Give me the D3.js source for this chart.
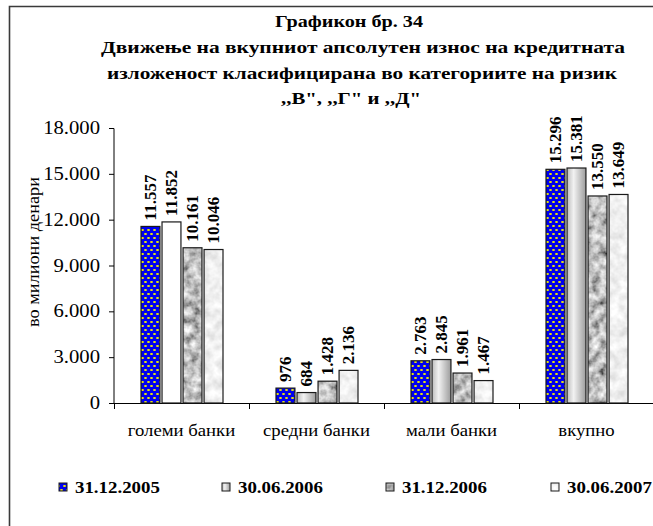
<!DOCTYPE html>
<html>
<head>
<meta charset="utf-8">
<script src="https://cdn.jsdelivr.net/npm/d3@7"></script>
<style>
  body { margin: 0; background: #fff; }
  svg { display: block; font-family: "Liberation Serif", "Times New Roman", serif; }
</style>
</head>
<body>
<svg id="chart" width="653" height="526"></svg>
<script>
// chart data
const categories = ["големи банки", "средни банки", "мали банки", "вкупно"];
const seriesNames = ["31.12.2005", "30.06.2006", "31.12.2006", "30.06.2007"];
const s2005dec = [11557, 976, 2763, 15296];
const s2006jun = [11852, 684, 2845, 15381];
const s2006dec = [10161, 1428, 1961, 13550];
const s2007jun = [10046, 2136, 1467, 13649];
const yTicks = [0, 3000, 6000, 9000, 12000, 15000, 18000];
const titleLines = [
  "Графикон бр. 34",
  "Движење на вкупниот апсолутен износ на кредитната",
  "изложеност класифицирана во категориите на ризик",
  ",,В\", ,,Г\" и ,,Д\""
];
const yTitle = "во милиони денари";

const seriesValues = [s2005dec, s2006jun, s2006dec, s2007jun];

const svg = d3.select("#chart");
const defs = svg.append("defs");

// frame (only top and left edges show in the source)
svg.append("path")
  .attr("d", "M9.5,526 V6.5 H653")
  .attr("fill", "none")
  .attr("stroke", "#3a3a3a")
  .attr("stroke-width", 1.6);

// fills
const dots = defs.append("pattern")
  .attr("id", "dots")
  .attr("patternUnits", "userSpaceOnUse")
  .attr("width", 6).attr("height", 8);
dots.append("rect").attr("width", 6).attr("height", 8).attr("fill", "#0000f0");
[[1.5, 2], [4.5, 6]].forEach(p => {
  dots.append("ellipse").attr("cx", p[0]).attr("cy", p[1])
    .attr("rx", 1.5).attr("ry", 1).attr("fill", "#f2f000");
});

const grad = defs.append("linearGradient").attr("id", "grad2")
  .attr("x1", 0).attr("x2", 1).attr("y1", 0).attr("y2", 0);
grad.append("stop").attr("offset", "0%").attr("stop-color", "#bdbdbd");
grad.append("stop").attr("offset", "35%").attr("stop-color", "#f2f2f2");
grad.append("stop").attr("offset", "100%").attr("stop-color", "#9c9c9c");

const marble = (id, a, b, freq) => {
  const f = defs.append("filter").attr("id", id)
    .attr("x", 0).attr("y", 0).attr("width", 1).attr("height", 1);
  f.append("feTurbulence").attr("type", "fractalNoise")
    .attr("baseFrequency", freq).attr("numOctaves", 3).attr("seed", 7)
    .attr("result", "noise");
  const m = `${a} 0 0 0 ${b}  ${a} 0 0 0 ${b}  ${a} 0 0 0 ${b}  0 0 0 0 1`;
  f.append("feColorMatrix").attr("type", "matrix").attr("values", m)
    .attr("in", "noise").attr("result", "grey");
  f.append("feComposite").attr("in", "grey").attr("in2", "SourceGraphic")
    .attr("operator", "in");
};
marble("marbleDark", 1.3, -0.12, 0.12);
marble("marbleLight", 0.5, 0.62, 0.1);

const fills = ["url(#dots)", "url(#grad2)", "#999", "#ddd"];
const filters = [null, null, "url(#marbleDark)", "url(#marbleLight)"];

// stretched horizontal text helper (source text is wide)
function wideText(g, x, y, txt, size, weight, anchor, sx) {
  return g.append("text")
    .attr("transform", `translate(${x},${y}) scale(${sx},1)`)
    .attr("font-size", size)
    .attr("font-weight", weight)
    .attr("text-anchor", anchor)
    .attr("fill", "#000")
    .text(txt);
}

// title
const titleY = [27, 53, 79, 104];
const titleX = [275, 101, 107, 281];
const titleW = [148, 524, 510, 140];
titleLines.forEach((t, i) => {
  svg.append("text")
    .attr("x", titleX[i]).attr("y", titleY[i])
    .attr("font-size", 17)
    .attr("font-weight", "bold")
    .attr("textLength", titleW[i])
    .attr("lengthAdjust", "spacingAndGlyphs")
    .text(t);
});

// scales
const y = d3.scaleLinear().domain([0, 18000]).range([403, 128]);
const x0 = d3.scaleBand().domain(categories).range([114, 654]);
const x1 = d3.scaleBand().domain(d3.range(4)).range([27, 109]).paddingInner(0.1);

// y axis
const yAxis = svg.append("g")
  .attr("transform", "translate(114,0)")
  .call(d3.axisLeft(y).tickValues(yTicks).tickSize(5).tickFormat(() => ""));
yAxis.select(".domain").attr("d", "M0,128.5 V403.5");
yAxis.selectAll("line").attr("stroke", "#000");
yTicks.forEach(v => {
  wideText(svg, 100, y(v) + 6, v === 0 ? "0" : d3.format(",")(v).replace(",", "."), 18, "normal", "end", 1.15);
});

// y axis title
svg.append("text")
  .attr("transform", "translate(39,252) rotate(-90)")
  .attr("text-anchor", "middle")
  .attr("font-size", 16)
  .attr("textLength", 150)
  .attr("lengthAdjust", "spacingAndGlyphs")
  .text(yTitle);

// x axis
const xg = svg.append("g");
xg.append("line").attr("x1", 114).attr("x2", 653).attr("y1", 403.5).attr("y2", 403.5)
  .attr("stroke", "#000");
categories.forEach((c, i) => {
  const xx = Math.round(x0(c)) + 0.5;
  xg.append("line").attr("x1", xx).attr("x2", xx).attr("y1", 403).attr("y2", 409)
    .attr("stroke", "#000");
  wideText(xg, x0(c) + x0.bandwidth() / 2, 436, c, 16, "normal", "middle", 1.17);
});

// bars
const data = [];
categories.forEach((c, ci) => {
  seriesValues.forEach((vals, si) => {
    data.push({ cat: c, ci, si, v: vals[ci] });
  });
});

const bars = svg.append("g").selectAll("g.bar").data(data).enter().append("g")
  .attr("class", "bar");

bars.append("rect")
  .attr("x", d => x0(d.cat) + x1(d.si))
  .attr("y", d => y(d.v))
  .attr("width", x1.bandwidth())
  .attr("height", d => y(0) - y(d.v))
  // the first bar of series 2 is plain white in the source image
  .attr("fill", d => (d.si === 1 && d.ci === 0) ? "#fff" : fills[d.si])
  .attr("filter", d => filters[d.si]);

bars.append("rect")
  .attr("x", d => x0(d.cat) + x1(d.si))
  .attr("y", d => y(d.v))
  .attr("width", x1.bandwidth())
  .attr("height", d => y(0) - y(d.v))
  .attr("fill", "none")
  .attr("stroke", "#1a1a1a")
  .attr("stroke-width", 1.2);

bars.append("text")
  .attr("transform", d => `translate(${x0(d.cat) + x1(d.si) + x1.bandwidth() / 2},${y(d.v) - 6}) rotate(-90)`)
  .attr("dy", "0.35em")
  .attr("font-size", 17)
  .attr("font-weight", "bold")
  .attr("text-anchor", "start")
  .text(d => d3.format(",")(d.v).replace(",", "."));

// legend
const legX = [75, 238, 402, 567];
const leg = svg.append("g");
seriesNames.forEach((n, i) => {
  leg.append("rect")
    .attr("x", legX[i] - 16).attr("y", 483)
    .attr("width", 8).attr("height", 8)
    .attr("fill", fills[i])
    .attr("filter", filters[i]);
  leg.append("rect")
    .attr("x", legX[i] - 16).attr("y", 483)
    .attr("width", 8).attr("height", 8)
    .attr("fill", "none").attr("stroke", "#1a1a1a");
  wideText(leg, legX[i], 493, n, 16, "bold", "start", 1.18);
});
</script>
</body>
</html>
